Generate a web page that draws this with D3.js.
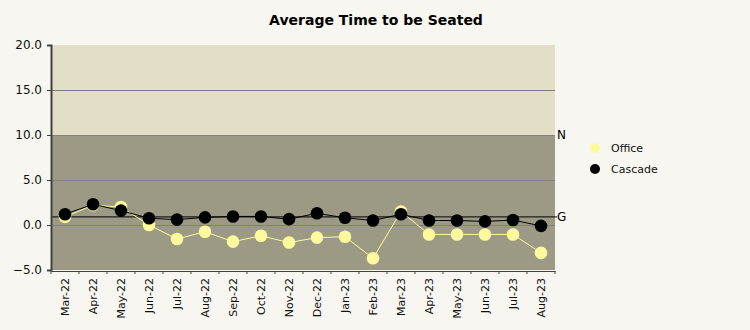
<!DOCTYPE html>
<html>
<head>
<meta charset="utf-8">
<script src="https://cdn.jsdelivr.net/npm/d3@7"></script>
<style>
  body { margin: 0; background: #f8f6f0; }
  svg { display: block; font-family: "DejaVu Sans", sans-serif; }
</style>
</head>
<body>
<svg id="chart" width="750" height="330"></svg>
<script>
// data
const months = ["Mar-22","Apr-22","May-22","Jun-22","Jul-22","Aug-22","Sep-22","Oct-22","Nov-22","Dec-22",
    "Jan-23","Feb-23","Mar-23","Apr-23","May-23","Jun-23","Jul-23","Aug-23"]
const office  = [0.9, 2.2, 2.0, 0.0, -1.55, -0.75, -1.85, -1.2, -1.95, -1.4, -1.3, -3.7, 1.5, -1.05, -1.05, -1.05, -1.05, -3.1]
const cascade = [1.2, 2.3, 1.6, 0.75, 0.6, 0.85, 0.95, 0.95, 0.65, 1.3, 0.8, 0.5, 1.2, 0.5, 0.5, 0.4, 0.55, -0.1]
const yTicks = [-5, 0, 5, 10, 15, 20]
const goal = 0.9      // "G" line
const norm = 10       // "N" band boundary

const svg = d3.select("#chart")
const plot = {left: 51, right: 555, top: 45, bottom: 270}

const x = d3.scaleBand().domain(months).range([plot.left, plot.right])
const y = d3.scaleLinear().domain([-5, 20]).range([plot.bottom, plot.top])
const cx = d => x(d) + x.bandwidth()/2

// bands
svg.append("rect")
    .attr("x", plot.left).attr("y", y(20))
    .attr("width", plot.right - plot.left).attr("height", y(norm) - y(20))
    .attr("fill", "#e3dfc6")
svg.append("rect")
    .attr("x", plot.left).attr("y", y(norm))
    .attr("width", plot.right - plot.left).attr("height", y(-5) - y(norm))
    .attr("fill", "#9c9a85")

// grid
svg.append("g").selectAll("line")
    .data([0, 5, 10, 15])
    .enter().append("line")
    .attr("x1", plot.left).attr("x2", plot.right)
    .attr("y1", d => y(d) + 0.5).attr("y2", d => y(d) + 0.5)
    .attr("stroke", "#7f7f88").attr("stroke-width", 1)

// goal line + labels
svg.append("line")
    .attr("x1", plot.left).attr("x2", plot.right + 2)
    .attr("y1", y(goal)).attr("y2", y(goal))
    .attr("stroke", "black").attr("stroke-width", 1)
svg.append("text")
    .attr("x", plot.right + 2).attr("y", y(goal))
    .attr("dy", "0.35em").attr("font-size", "12px")
    .text("G")
svg.append("text")
    .attr("x", plot.right + 2).attr("y", y(norm))
    .attr("dy", "0.35em").attr("font-size", "12px")
    .text("N")

// y axis
const yAxis = svg.append("g")
    .attr("transform", `translate(${plot.left},0)`)
    .call(d3.axisLeft(y).tickValues(yTicks).tickSize(4).tickPadding(5).tickFormat(d3.format(".1f")))
yAxis.select(".domain").attr("stroke", "#404040").attr("stroke-width", 2)
yAxis.selectAll(".tick line").attr("stroke", "#404040")
yAxis.selectAll("text").attr("font-size", "12px").attr("fill", "#111")
    .attr("font-family", "DejaVu Sans")

// x axis
const xAxis = svg.append("g")
    .attr("transform", `translate(0,${plot.bottom + 1})`)
    .call(d3.axisBottom(x).tickSize(0).tickPadding(0))
xAxis.select(".domain").attr("stroke", "#404040").attr("stroke-width", 1)
xAxis.selectAll("text")
    .attr("font-size", "11px").attr("fill", "#111")
    .attr("font-family", "DejaVu Sans")
    .attr("text-anchor", "end")
    .attr("transform", "rotate(-90)")
    .attr("x", -7).attr("y", 0).attr("dy", "0.35em")
svg.append("g").selectAll("line")
    .data(months.concat(["end"]))
    .enter().append("line")
    .attr("x1", (d, i) => plot.left + i*x.bandwidth())
    .attr("x2", (d, i) => plot.left + i*x.bandwidth())
    .attr("y1", plot.bottom + 1).attr("y2", plot.bottom + 4)
    .attr("stroke", "#404040")

// series
const line = d3.line().x((d, i) => cx(months[i])).y(d => y(d))
const series = [
    {name: "Office", vals: office, fill: "#fdfa9e"},
    {name: "Cascade", vals: cascade, fill: "#000000"}
]
series.forEach(s => {
    svg.append("path")
        .attr("d", line(s.vals))
        .attr("fill", "none")
        .attr("stroke", s.fill)
        .attr("stroke-width", 1)
    svg.append("g").selectAll("circle")
        .data(s.vals)
        .enter().append("circle")
        .attr("cx", (d, i) => cx(months[i]))
        .attr("cy", d => y(d))
        .attr("r", 6.3)
        .attr("fill", s.fill)
})

// legend
const legend = svg.append("g")
    .selectAll("g")
    .data(series)
    .enter().append("g")
    .attr("transform", (d, i) => `translate(595,${148 + i*21})`)
legend.append("circle").attr("r", 5).attr("fill", d => d.fill)
legend.append("text")
    .attr("x", 16).attr("dy", "0.35em")
    .attr("font-size", "11px").attr("fill", "#111")
    .text(d => d.name)

// title
svg.append("text")
    .attr("x", 376).attr("y", 25)
    .attr("text-anchor", "middle")
    .attr("font-size", "14px").attr("font-weight", "bold")
    .text("Average Time to be Seated")
</script>
</body>
</html>
